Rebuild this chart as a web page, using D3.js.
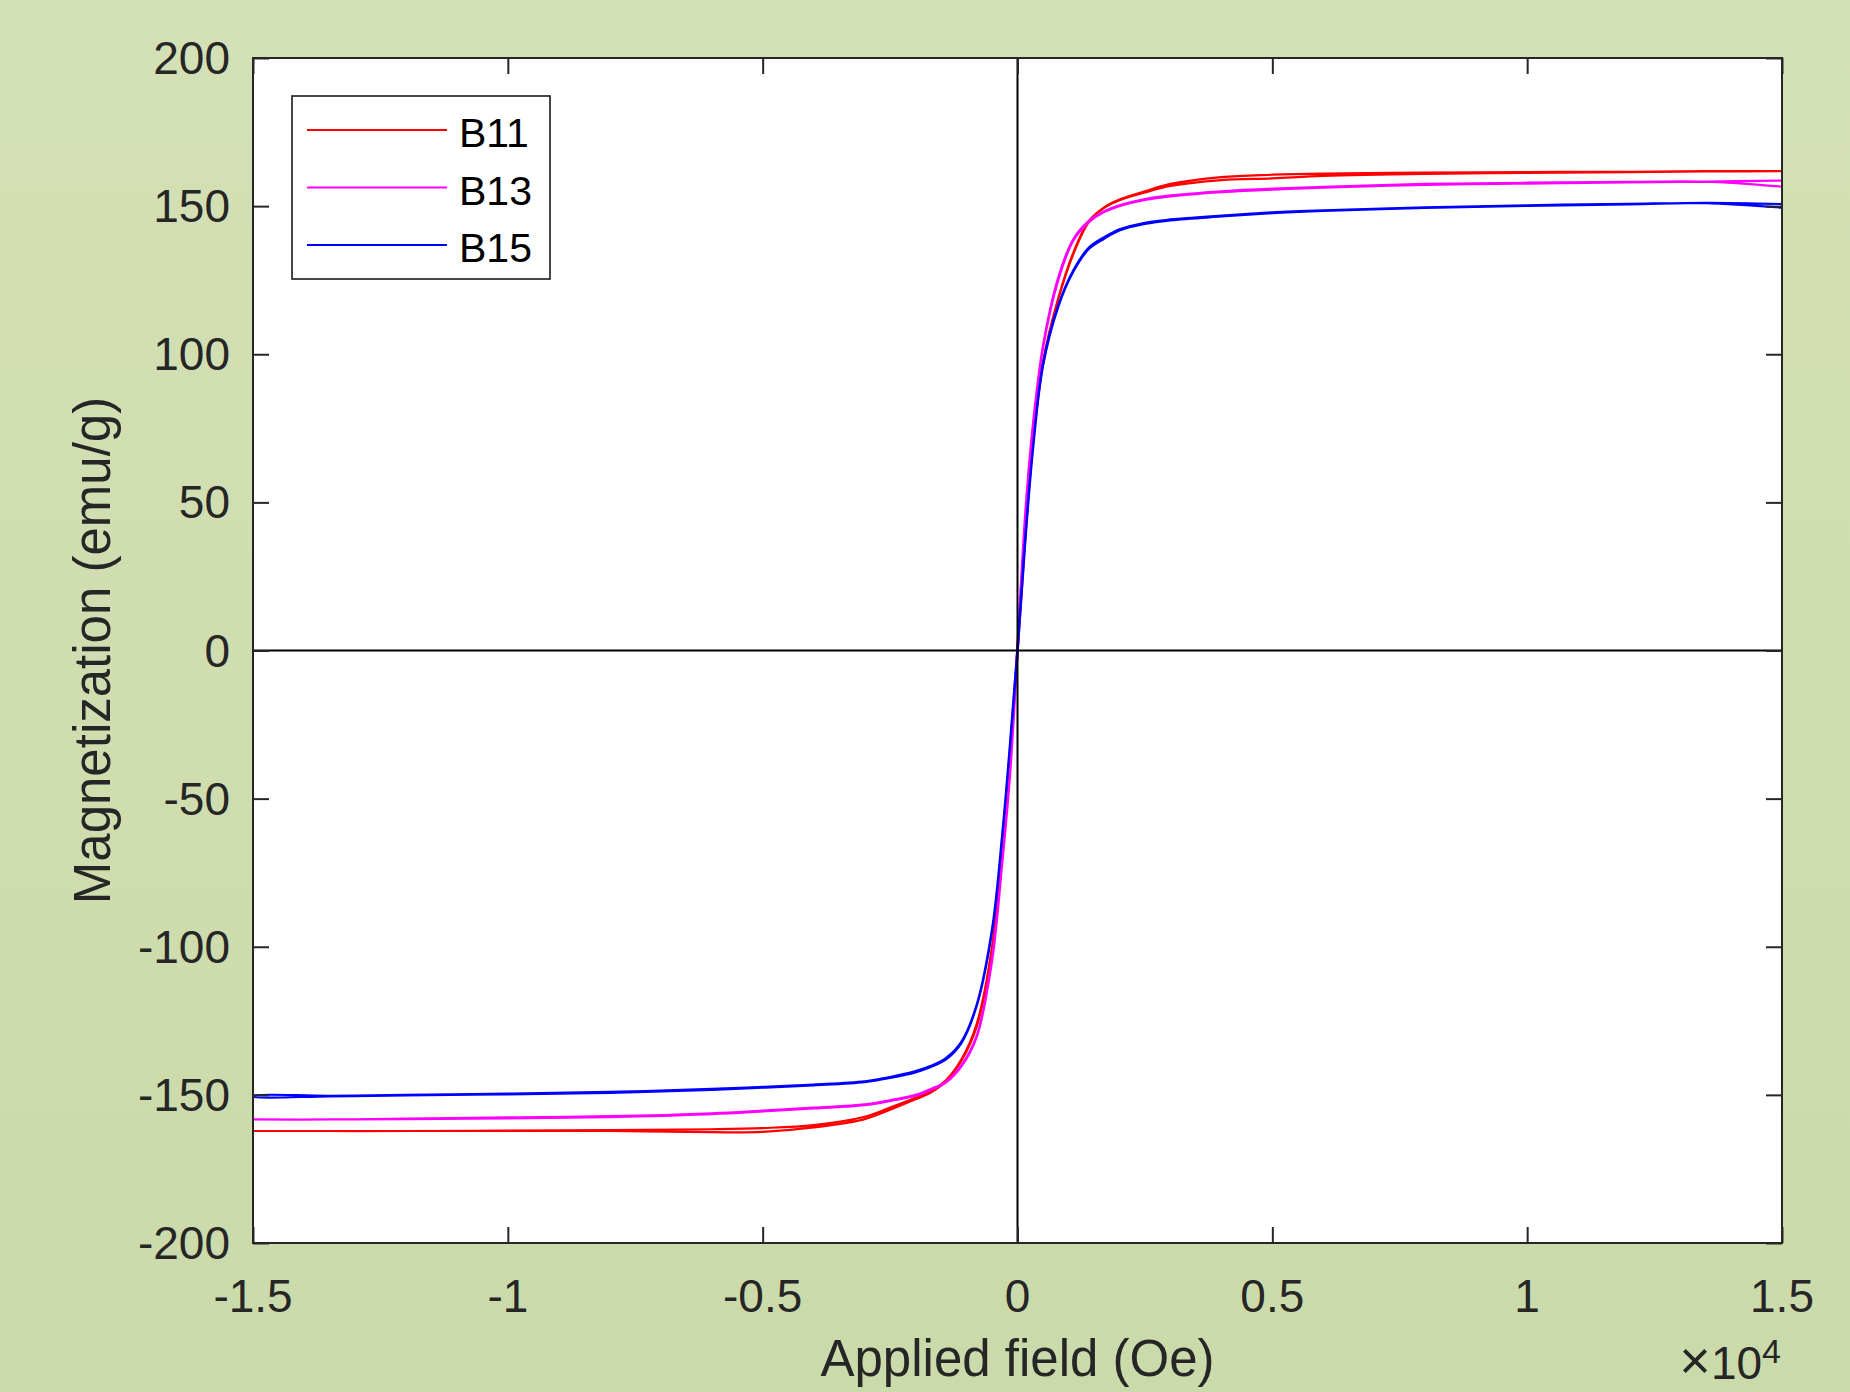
<!DOCTYPE html>
<html>
<head>
<meta charset="utf-8">
<script src="https://cdn.jsdelivr.net/npm/d3@7"></script>
<style>
  body { margin: 0; padding: 0; }
  svg { display: block; font-family: "Liberation Sans", Arial, sans-serif; }
  .tick-label { fill: #262626; font-size: 46px; }
  .axis-title { fill: #262626; font-size: 51px; }
  .legend-label { fill: #000; font-size: 41px; }
</style>
</head>
<body>
<svg id="chart"></svg>
<script>
// Applied field grid (Oe), from +15000 down to -15000
const field = [15000, 13500, 12000, 10000, 8000, 6000, 5000, 4000, 3000, 2500, 2000, 1700,
  1400, 1100, 800, 500, 300, 150, 0, -150, -300, -500, -800, -1100, -1400, -1700, -2000,
  -2500, -3000, -4000, -5000, -6000, -8000, -10000, -12000, -13500, -15000];

// Magnetization (emu/g): descending branch and ascending branch, same field points
const b11Down = [161.8, 161.8, 161.6, 161.5, 161.3, 161.0, 160.6, 159.8, 157.5, 155.0, 152.2, 149.6,
  145.0, 134.5, 119.0, 97.5, 70.0, 38.0, 1.0, -34.0, -64.0, -100.0, -126.0, -138.0, -145.0, -148.8, -151.0,
  -154.3, -157.4, -160.2, -161.2, -161.6, -161.9, -162.1, -162.2, -162.2, -162.2];
const b11Up = [161.8, 161.7, 161.5, 161.2, 160.9, 160.2, 159.4, 158.8, 156.8, 154.6, 152.0, 149.4,
  144.6, 134.0, 118.5, 96.5, 69.0, 37.0, -1.0, -35.0, -65.0, -101.0, -127.0, -138.5, -145.4, -149.2, -151.5,
  -155.0, -158.2, -161.0, -162.5, -162.6, -162.2, -162.2, -162.2, -162.2, -162.2];

const b13Down = [156.6, 158.3, 158.2, 157.9, 157.5, 156.5, 155.9, 155.0, 153.6, 152.4, 150.3, 148.3,
  145.0, 139.0, 126.0, 103.0, 76.0, 46.0, 2.0, -42.0, -71.0, -104.0, -130.0, -140.0, -145.5, -148.0, -150.0,
  -151.8, -153.2, -154.3, -155.3, -156.2, -157.2, -157.6, -158.0, -158.3, -158.3];
const b13Up = [158.6, 158.3, 158.0, 157.6, 157.2, 156.2, 155.6, 154.7, 153.3, 152.1, 150.0, 148.0,
  144.6, 138.5, 125.0, 102.0, 75.0, 44.0, -1.0, -43.0, -72.0, -105.0, -130.5, -140.4, -145.8, -148.3, -150.3,
  -152.1, -153.5, -154.6, -155.6, -156.5, -157.5, -157.9, -158.2, -158.3, -158.3];

const b15Down = [149.5, 151.0, 150.8, 150.3, 149.6, 148.6, 147.9, 146.8, 145.5, 144.4, 142.2, 139.5,
  136.0, 128.5, 116.5, 97.0, 68.0, 38.0, 1.0, -32.0, -62.0, -94.0, -119.5, -132.0, -137.5, -140.2, -142.0,
  -144.0, -145.4, -146.5, -147.3, -148.0, -149.0, -149.6, -150.0, -150.3, -150.3];
const b15Up = [150.7, 151.1, 150.6, 150.1, 149.4, 148.4, 147.6, 146.5, 145.2, 144.0, 141.8, 139.0,
  135.5, 128.0, 116.0, 96.0, 67.0, 36.0, -1.0, -33.0, -63.0, -95.0, -120.0, -132.5, -138.0, -140.6, -142.4,
  -144.3, -145.7, -146.8, -147.6, -148.3, -149.3, -149.8, -150.2, -150.5, -150.6];

const seriesNames = ['B11', 'B13', 'B15'];
const seriesColors = ['#ff0000', '#ff00ff', '#0000ff'];
const seriesDown = [b11Down, b13Down, b15Down];
const seriesUp = [b11Up, b13Up, b15Up];

const xTicks = [-15000, -10000, -5000, 0, 5000, 10000, 15000];
const xTickLabels = ['-1.5', '-1', '-0.5', '0', '0.5', '1', '1.5'];
const yTicks = [-200, -150, -100, -50, 0, 50, 100, 150, 200];

const width = 1850, height = 1392;
const margin = {top: 58, right: 68, bottom: 149, left: 253};
const innerW = width - margin.left - margin.right;
const innerH = height - margin.top - margin.bottom;

const svg = d3.select('#chart')
    .attr('width', width)
    .attr('height', height);

// light green figure background with a faint vertical gradient
const defs = svg.append('defs');
const grad = defs.append('linearGradient')
    .attr('id', 'bg').attr('x1', 0).attr('y1', 0).attr('x2', 0).attr('y2', 1);
grad.append('stop').attr('offset', '0%').attr('stop-color', '#d4e0b5');
grad.append('stop').attr('offset', '100%').attr('stop-color', '#cbdaaa');
defs.append('clipPath').attr('id', 'clip')
  .append('rect').attr('width', innerW).attr('height', innerH);

svg.append('rect')
    .attr('width', width).attr('height', height)
    .attr('fill', 'url(#bg)');

const chart = svg.append('g')
    .attr('transform', `translate(${margin.left},${margin.top})`);

const x = d3.scaleLinear().domain([-15000, 15000]).range([0, innerW]);
const y = d3.scaleLinear().domain([-200, 200]).range([innerH, 0]);

chart.append('rect')
    .attr('width', innerW).attr('height', innerH)
    .attr('fill', '#fff');

// hysteresis loops: descending branch, then ascending branch back
const line = d3.line()
    .x(d => x(d[0]))
    .y(d => y(d[1]))
    .curve(d3.curveCatmullRom.alpha(0.5));

const plotG = chart.append('g').attr('clip-path', 'url(#clip)');
seriesNames.forEach((name, i) => {
  const down = field.map((h, j) => [h, seriesDown[i][j]]);
  const up = field.map((h, j) => [h, seriesUp[i][j]]).reverse();
  plotG.append('path')
      .datum(down.concat(up))
      .attr('fill', 'none')
      .attr('stroke', seriesColors[i])
      .attr('stroke-width', 2.2)
      .attr('stroke-linejoin', 'round')
      .attr('d', line);
});

// zero lines
chart.append('line')
    .attr('x1', x(0)).attr('x2', x(0)).attr('y1', 0).attr('y2', innerH)
    .attr('stroke', '#000').attr('stroke-width', 2);
chart.append('line')
    .attr('x1', 0).attr('x2', innerW).attr('y1', y(0)).attr('y2', y(0))
    .attr('stroke', '#000').attr('stroke-width', 2);

// axes with inward ticks on all four sides
const tickLen = 16;
const styleAxis = g => {
  g.select('.domain').remove();
  g.selectAll('.tick line').attr('stroke', '#262626').attr('stroke-width', 2);
  g.selectAll('.tick text').remove();
};
chart.append('g').attr('transform', `translate(0,${innerH})`)
    .call(d3.axisBottom(x).tickValues(xTicks).tickSize(-tickLen)).call(styleAxis);
chart.append('g')
    .call(d3.axisTop(x).tickValues(xTicks).tickSize(-tickLen)).call(styleAxis);
chart.append('g')
    .call(d3.axisLeft(y).tickValues(yTicks).tickSize(-tickLen)).call(styleAxis);
chart.append('g').attr('transform', `translate(${innerW},0)`)
    .call(d3.axisRight(y).tickValues(yTicks).tickSize(-tickLen)).call(styleAxis);

chart.append('rect')
    .attr('width', innerW).attr('height', innerH)
    .attr('fill', 'none')
    .attr('stroke', '#262626')
    .attr('stroke-width', 2);

// tick labels
chart.selectAll('.x-label')
  .data(xTicks)
  .join('text')
    .attr('class', 'tick-label')
    .attr('x', d => x(d))
    .attr('y', innerH + 69)
    .attr('text-anchor', 'middle')
    .text((d, i) => xTickLabels[i]);

chart.selectAll('.y-label')
  .data(yTicks)
  .join('text')
    .attr('class', 'tick-label')
    .attr('x', -23)
    .attr('y', d => y(d))
    .attr('dy', '0.35em')
    .attr('text-anchor', 'end')
    .text(d => d);

// exponent marker
const expo = svg.append('text')
    .attr('class', 'tick-label')
    .attr('x', 1781)
    .attr('y', 1379)
    .attr('text-anchor', 'end');
expo.append('tspan').attr('font-size', 54).attr('font-weight', 300).text('\u00d7');
expo.append('tspan').text('10');
expo.append('tspan').attr('dy', -16).attr('font-size', 34).text('4');

// axis titles
svg.append('text')
    .attr('class', 'axis-title')
    .attr('x', margin.left + innerW / 2)
    .attr('y', 1376)
    .attr('text-anchor', 'middle')
    .text('Applied field (Oe)');

svg.append('text')
    .attr('class', 'axis-title')
    .attr('transform', `translate(110,${margin.top + innerH / 2}) rotate(-90)`)
    .attr('text-anchor', 'middle')
    .text('Magnetization (emu/g)');

// legend
const legend = svg.append('g');
legend.append('rect')
    .attr('x', 292).attr('y', 96)
    .attr('width', 258).attr('height', 183)
    .attr('fill', '#fff')
    .attr('stroke', '#262626')
    .attr('stroke-width', 1.7);
seriesNames.forEach((name, i) => {
  const ly = 130 + i * 57.5;
  legend.append('line')
      .attr('x1', 307).attr('x2', 447).attr('y1', ly).attr('y2', ly)
      .attr('stroke', seriesColors[i]).attr('stroke-width', 2.2);
  legend.append('text')
      .attr('class', 'legend-label')
      .attr('x', 459).attr('y', ly + 17)
      .text(name);
});
</script>
</body>
</html>
